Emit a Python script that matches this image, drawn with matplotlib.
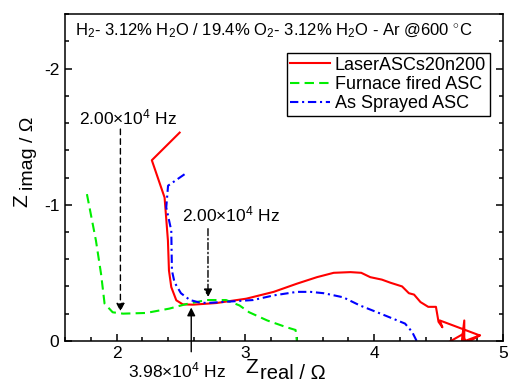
import matplotlib
matplotlib.use("Agg")
import matplotlib.pyplot as plt
from matplotlib.ticker import MultipleLocator

plt.rcParams['font.family'] = ['Liberation Sans', 'DejaVu Sans']
plt.rcParams['mathtext.fontset'] = 'custom'
plt.rcParams['mathtext.rm'] = 'Liberation Sans'
plt.rcParams['mathtext.it'] = 'Liberation Sans:italic'
plt.rcParams['mathtext.bf'] = 'Liberation Sans:bold'
plt.rcParams['axes.unicode_minus'] = False

# ---- data (Z_real, Z_imag in Ohm) ----
laser_x = [2.49, 2.274, 2.373, 2.399, 2.407, 2.425, 2.464, 2.515, 2.593, 2.775, 3.008,
           3.22, 3.40, 3.556, 3.686, 3.816, 3.90, 3.97, 4.06, 4.127, 4.217, 4.27, 4.31,
           4.36, 4.42, 4.48, 4.50, 4.53, 4.51, 4.82, 4.68, 4.70, 4.70, 4.56, 4.69, 4.71, 4.82]
laser_y = [-1.53, -1.327, -1.053, -0.737, -0.517, -0.395, -0.298, -0.268, -0.266, -0.278, -0.31,
           -0.36, -0.42, -0.468, -0.50, -0.505, -0.50, -0.468, -0.45, -0.427, -0.40, -0.35, -0.34,
           -0.285, -0.25, -0.25, -0.14, -0.10, -0.15, -0.04, 0.01, -0.15, 0.02, 0.02, -0.05, 0.02, -0.04]

furnace_x = [1.77, 1.84, 1.88, 1.907, 1.97, 2.05, 2.23, 2.41, 2.54, 2.70, 2.85, 2.955, 3.03,
             3.17, 3.32, 3.39, 3.40]
furnace_y = [-1.078, -0.737, -0.49, -0.274, -0.21, -0.20, -0.205, -0.237, -0.27, -0.30, -0.30,
             -0.26, -0.21, -0.15, -0.10, -0.08, 0.0]

sprayed_x = [2.528, 2.40, 2.386, 2.425, 2.43, 2.45, 2.50, 2.57, 2.64, 2.70, 3.06, 3.22, 3.40, 3.505,
             3.61, 3.76, 3.89, 4.05, 4.24, 4.295, 4.33]
sprayed_y = [-1.224, -1.14, -0.98, -0.81, -0.517, -0.43, -0.35, -0.30, -0.283, -0.278, -0.30, -0.334,
             -0.36, -0.36, -0.35, -0.32, -0.26, -0.20, -0.127, -0.066, 0.0]

series_labels = ['LaserASCs20n200', 'Furnace fired ASC', 'As Sprayed ASC']
title_text = r'H$_2$- 3.12% H$_2$O / 19.4% O$_2$- 3.12% H$_2$O - Ar @600 $^{\circ}$C'
freq_labels = [r'2.00×10$^4$ Hz', r'2.00×10$^4$ Hz', r'3.98×10$^4$ Hz']
x_label_parts = ['Z', 'real / Ω']
y_label_parts = ['Z', 'imag / Ω']

fig = plt.figure(figsize=(5.08, 3.83), dpi=100)
ax = fig.add_axes([0.128, 0.110, 0.862, 0.853])

ax.plot(laser_x, laser_y, color='#ff0000', lw=1.5, label=series_labels[0])
ax.plot(furnace_x, furnace_y, color='#00ee00', lw=1.5, dashes=(4.5, 2.5), label=series_labels[1])
ax.plot(sprayed_x, sprayed_y, color='#0000ff', lw=1.5, dashes=(4, 1.8, 1, 1.8), label=series_labels[2])

ax.set_xlim(1.6, 5.0)
ax.set_ylim(0, -2.4)

ax.xaxis.set_minor_locator(MultipleLocator(0.2))
ax.yaxis.set_minor_locator(MultipleLocator(0.2))
ax.set_xticks([2, 3, 4, 5])
ax.set_yticks([0, -1, -2])
ax.set_yticklabels(['0', '-1', '-2'])
ax.tick_params(which='both', direction='in', top=False, right=True, labelsize=12.5, width=1.1)
ax.tick_params(which='major', length=5, pad=4)
ax.tick_params(which='minor', length=3)
for s in ax.spines.values():
    s.set_linewidth(1.1)

# axis labels: large "Z" followed by lowered smaller text
ax.text(0.441, -0.098, x_label_parts[0], transform=ax.transAxes, ha='right', va='baseline',
        fontsize=15)
ax.text(0.4455, -0.117, x_label_parts[1], transform=ax.transAxes, ha='left', va='baseline',
        fontsize=14.5)
ax.text(-0.0868, 0.409, y_label_parts[0], transform=ax.transAxes, ha='left', va='baseline',
        rotation=90, rotation_mode='anchor', fontsize=15)
ax.text(-0.0735, 0.462, y_label_parts[1], transform=ax.transAxes, ha='left', va='baseline',
        rotation=90, rotation_mode='anchor', fontsize=14)

ax.text(0.023, 0.948, title_text, transform=ax.transAxes, ha='left', va='center', fontsize=12)

leg = ax.legend(loc='upper right', bbox_to_anchor=(0.970, 0.881), fontsize=13, frameon=True,
                fancybox=False, edgecolor='black', framealpha=1, handlelength=2.2,
                handletextpad=0.28, labelspacing=0.12, borderpad=0.2, borderaxespad=0)
leg.get_frame().set_linewidth(1.0)

# frequency annotations
ax.annotate('', xy=(2.03, -0.215), xytext=(2.03, -1.556),
            arrowprops=dict(arrowstyle='-|>', color='black', lw=1, linestyle=(0, (4, 3)),
                            mutation_scale=12, shrinkA=0, shrinkB=0))
ax.text(2.09, -1.64, freq_labels[0], ha='center', va='center', fontsize=12.5)

ax.annotate('', xy=(2.71, -0.32), xytext=(2.71, -0.824),
            arrowprops=dict(arrowstyle='-|>', color='black', lw=1, linestyle=(0, (5, 2, 1, 2)),
                            mutation_scale=12, shrinkA=0, shrinkB=0))
ax.text(2.885, -0.93, freq_labels[1], ha='center', va='center', fontsize=12.5)

ax.annotate('', xy=(2.58, -0.245), xytext=(2.58, 0.08),
            arrowprops=dict(arrowstyle='-|>', color='black', lw=1,
                            mutation_scale=12, shrinkA=0, shrinkB=0),
            annotation_clip=False)
ax.text(2.47, 0.22, freq_labels[2], ha='center', va='center', fontsize=12.5, clip_on=False)

fig.savefig('out.png', dpi=100)
